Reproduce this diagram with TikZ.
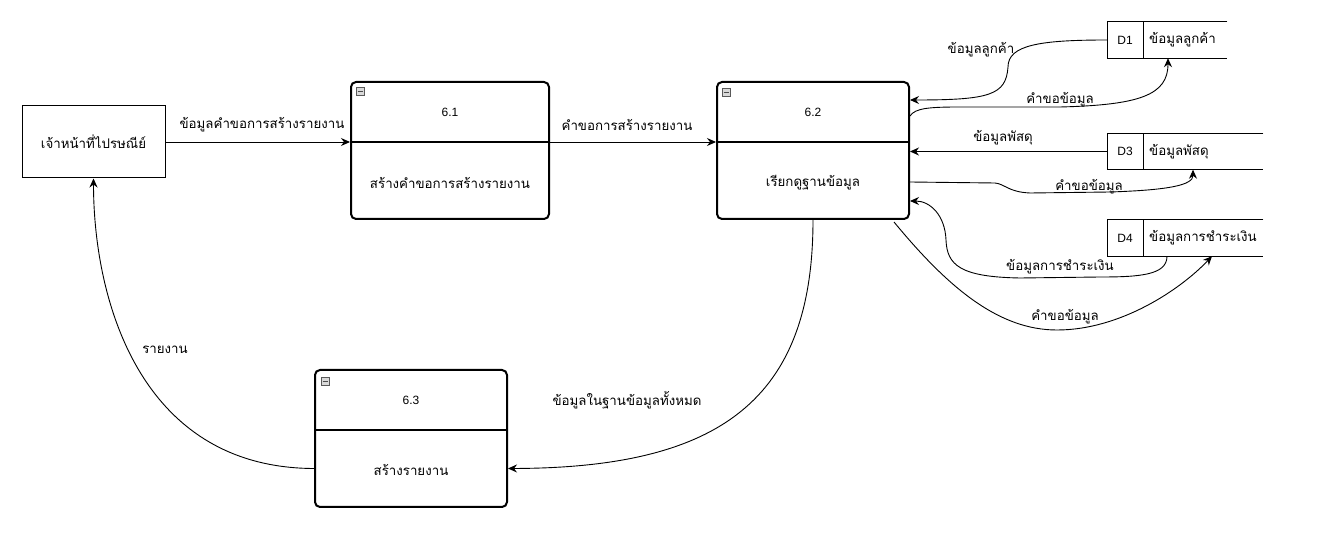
\documentclass[tikz,border=0pt]{standalone}
\usepackage{fontspec}
\setmainfont{Liberation Sans}
\newfontfamily\thai[Script=Thai]{Loma}
\usetikzlibrary{arrows.meta}

\tikzset{
  base/.style={font=\fontsize{12}{14}\selectfont, inner sep=0pt},
  th/.style={font=\thai\fontsize{13.3}{15}\selectfont, inner sep=0pt},
  entity/.style={draw, line width=1pt, minimum width=143pt, minimum height=72pt, inner sep=0pt},
  procbox/.style={draw, line width=2pt, rounded corners=5pt, minimum height=137pt, inner sep=0pt},
  storebox/.style={minimum height=36pt, inner sep=0pt},
  storeline/.style={line width=1pt},
  divline/.style={line width=2pt},
  flow/.style={draw, line width=0.9pt, -{Stealth[length=9pt,width=8pt,inset=3pt]}},
  minusicon/.pic={
    \draw[gray!70!black, fill=gray!30, line width=0.6pt] (0,0) rectangle (8.5,8.5);
    \draw[black!70, line width=1.2pt] (1.5,4.25) -- (7,4.25);
  }
}

\begin{document}
\begin{tikzpicture}[x=1pt,y=-1pt]
\useasboundingbox (0,0) rectangle (1318,534);
\fill[white] (0,0) rectangle (1318,534);

% external entity
\node[entity, th] (ent) at (93.5,142) {เจ้าหน้าที่ไปรษณีย์};

% processes
\node[procbox, minimum width=198pt] (p61) at (450,150.5) {};
\node[procbox, minimum width=192pt] (p62) at (813,150.5) {};
\node[procbox, minimum width=192pt] (p63) at (411,438.5) {};

\draw[divline] (p61.west |- 0,142) -- (p61.east |- 0,142);
\draw[divline] (p62.west |- 0,142) -- (p62.east |- 0,142);
\draw[divline] (p63.west |- 0,430) -- (p63.east |- 0,430);

\pic at (356,87) {minusicon};
\pic at (722,88) {minusicon};
\pic at (321,377) {minusicon};

\node[base] (n61) at (450,112) {6.1};
\node[th] (t61) at (450,183) {สร้างคำขอการสร้างรายงาน};
\node[base] (n62) at (813,112) {6.2};
\node[th] (t62) at (813,183) {เรียกดูฐานข้อมูล};
\node[base] (n63) at (411,400) {6.3};
\node[th] (t63) at (411,470) {สร้างรายงาน};

% data stores
\node[storebox, minimum width=120pt, anchor=west] (d1) at (1107,40) {};
\node[storebox, minimum width=156pt, anchor=west] (d3) at (1107,151.5) {};
\node[storebox, minimum width=156pt, anchor=west] (d4) at (1107,238) {};
\foreach \s in {d1,d3,d4} {
  \draw[storeline] (\s.north east) -- (\s.north west) -- (\s.south west) -- (\s.south east);
  \draw[storeline] ([xshift=36pt]\s.north west) -- ([xshift=36pt]\s.south west);
}
\node[base] (d1id) at ([xshift=18pt]d1.west) {D1};
\node[th, anchor=west] (d1name) at ([xshift=42pt]d1.west) {ข้อมูลลูกค้า};
\node[base] (d3id) at ([xshift=18pt]d3.west) {D3};
\node[th, anchor=west] (d3name) at ([xshift=42pt]d3.west) {ข้อมูลพัสดุ};
\node[base] (d4id) at ([xshift=18pt]d4.west) {D4};
\node[th, anchor=west] (d4name) at ([xshift=42pt]d4.west) {ข้อมูลการชำระเงิน};

% data flows
\draw[flow] (ent.east) -- (ent.east -| p61.west);
\draw[flow] (p61.east |- 0,142) -- (p62.west |- 0,142);
\draw[flow] (d1.west) .. controls (1040,40) and (1008,45) .. (1008,67)
  .. controls (1006,95) and (990,100) .. ([yshift=50.5pt]p62.east);
\draw[flow] ([yshift=34.5pt]p62.east) .. controls (915,108) and (930,107) .. (960,107)
  -- (1060,107) .. controls (1140,105) and (1168,95) .. ([xshift=61pt]d1.south west);
\draw[flow] (d3.west) -- (d3.west -| p62.east);
\draw[flow] ([yshift=-31.5pt]p62.east) -- (995,183) .. controls (1005,184) and (1008,192) .. (1030,193)
  -- (1110,192) .. controls (1170,190) and (1193,185) .. ([xshift=86pt]d3.south west);
\draw[flow] ([xshift=60pt]d4.south west) .. controls (1167,275) and (1140,277) .. (1100,277)
  -- (1020,278) .. controls (960,277) and (947,265) .. (946,240)
  .. controls (945,215) and (930,201) .. ([yshift=-50.5pt]p62.east);
\draw[flow] ([xshift=-16pt,yshift=-2pt]p62.south east) .. controls (950,290) and (1000,330) .. (1057,330)
  .. controls (1120,330) and (1180,290) .. ([xshift=105pt]d4.south west);
\draw[flow] (p62.south) .. controls (813,400) and (720,468) .. ([yshift=-30pt]p63.east);
\draw[flow] ([yshift=-30pt]p63.west) .. controls (140,468) and (93.5,300) .. (ent.south);

% flow labels
\node[th] (l1) at (262,125) {ข้อมูลคำขอการสร้างรายงาน};
\node[th] (l2) at (627,125) {คำขอการสร้างรายงาน};
\node[th] (l3) at (981,50) {ข้อมูลลูกค้า};
\node[th] (l4) at (1060,100) {คำขอข้อมูล};
\node[th] (l5) at (1003,138) {ข้อมูลพัสดุ};
\node[th] (l6) at (1089,187) {คำขอข้อมูล};
\node[th] (l7) at (1060,267) {ข้อมูลการชำระเงิน};
\node[th] (l8) at (1065,317) {คำขอข้อมูล};
\node[th] (l9) at (627,400) {ข้อมูลในฐานข้อมูลทั้งหมด};
\node[th] (l10) at (165,350) {รายงาน};
\end{tikzpicture}
\end{document}
